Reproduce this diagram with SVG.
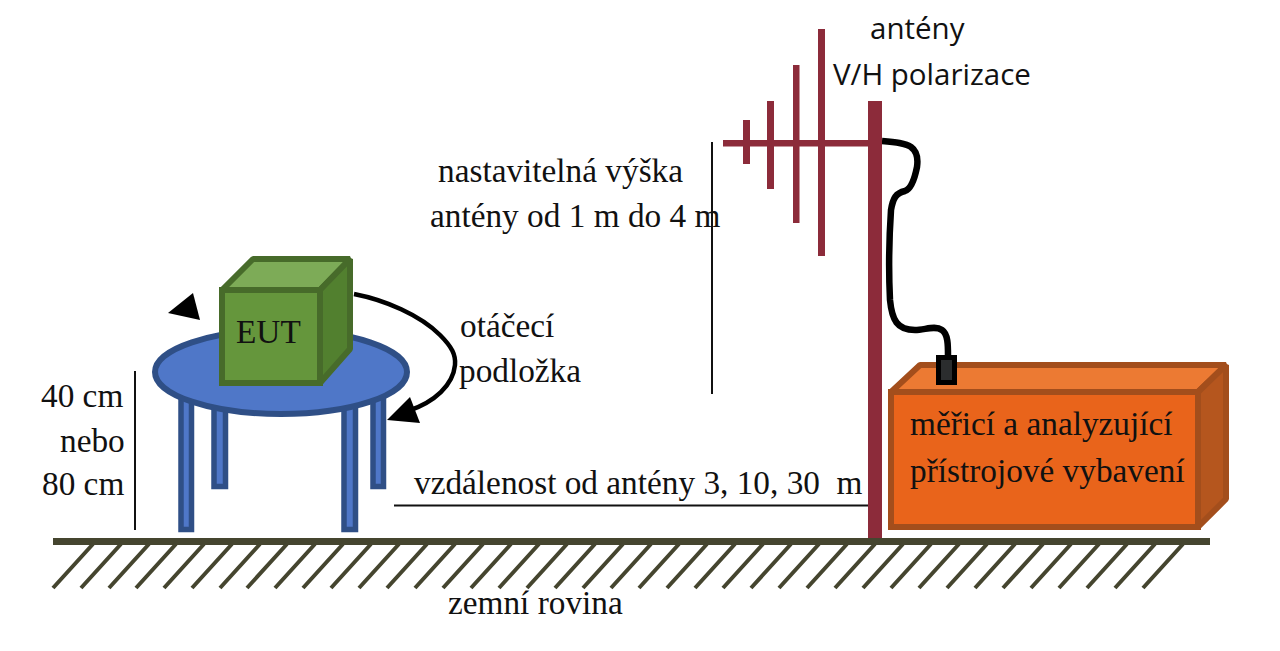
<svg xmlns="http://www.w3.org/2000/svg" width="1280" height="651" viewBox="0 0 1280 651">
<style>
.t{font-family:"Liberation Serif",serif;font-size:33.3px;fill:#111}
.s{font-family:"Open Sans",sans-serif;font-size:29.5px;fill:#111}
.leg{fill:#4f77c8;stroke:#2f4f86;stroke-width:5.500}
.hatch{stroke:#45452f;stroke-width:4;fill:none}
.red{fill:#8c2b3a}
.dim{stroke:#111;stroke-width:2;fill:none}
.j{stroke-linejoin:bevel}
</style>
<rect width="1280" height="651" fill="#fff"/>
<g id="ground">
<rect x="53" y="538" width="1157" height="7" fill="#45452f"/>
<path class="hatch" d="M93 544L53 588M121 544L81 588M149 544L109 588M176 544L136 588M204 544L164 588M232 544L192 588M260 544L220 588M287 544L247 588M315 544L275 588M343 544L303 588M371 544L331 588M399 544L359 588M427 544L387 588M455 544L415 588M483 544L443 588M511 544L471 588M539 544L499 588M567 544L527 588M595 544L555 588M623 544L583 588M651 544L611 588M679 544L639 588M707 544L667 588M735 544L695 588M763 544L723 588M791 544L751 588M819 544L779 588M847 544L807 588M875 544L835 588M903 544L863 588M931 544L891 588M959 544L919 588M987 544L947 588M1015 544L975 588M1043 544L1003 588M1071 544L1031 588M1099 544L1059 588M1127 544L1087 588M1155 544L1115 588M1183 544L1143 588"/>
</g>
<g id="table">
<rect class="leg" x="181" y="395" width="10.500" height="134.500"/>
<rect class="leg" x="214" y="405" width="11.500" height="81.500"/>
<rect class="leg" x="344" y="405" width="11.500" height="124.500"/>
<rect class="leg" x="373" y="395" width="10.500" height="91.500"/>
<ellipse cx="281" cy="372" rx="126" ry="42" fill="#4f77c8" stroke="#2f4f86" stroke-width="6"/>
</g>
<g id="eut">
<path class="j" d="M222 290L253 259H350L320 290Z" fill="#7dab57" stroke="#476b2a" stroke-width="6"/>
<path class="j" d="M320 290L350 259V349L320 383Z" fill="#52802f" stroke="#476b2a" stroke-width="6"/>
<rect x="222" y="290" width="98" height="93" fill="#65963c" stroke="#476b2a" stroke-width="6"/>
<text class="t" x="236" y="343">EUT</text>
</g>
<g id="connectors">
<path d="M354 294C385 300 420 315 440 335C452 347 456 355 455 365C453 385 435 402 408 411" fill="none" stroke="#000" stroke-width="4.500"/>
<path d="M387 420L410 397L420 423Z" fill="#000"/>
<path d="M193 293L168 313L200 320Z" fill="#000"/>
<path class="dim" d="M135 371V530M712 142V394M394 505.500H868"/>
<path d="M882 141C895 142 906 143 911 147C918 152 918 160 917 167C915 177 911 189 905 191C896 193 893 198 891 210C889 240 889 280 890 300C892 320 897 330 915 330C925 330 935 325 942 330C948 334 948 345 948 356" fill="none" stroke="#000" stroke-width="6.500"/>
</g>
<g id="antenna">
<rect class="red" x="723" y="140" width="146" height="6.500"/>
<rect class="red" x="743" y="120" width="7" height="44"/>
<rect class="red" x="767" y="101" width="7" height="88"/>
<rect class="red" x="793" y="65" width="6.500" height="158"/>
<rect class="red" x="818" y="29" width="7" height="227"/>
<rect class="red" x="868" y="101" width="14" height="437"/>
</g>
<g id="box">
<path class="j" d="M891 392L920 365H1226L1198 392Z" fill="#ec7a33" stroke="#a34e1c" stroke-width="6"/>
<path class="j" d="M1198 392L1226 365V499L1198 527Z" fill="#b5561e" stroke="#a34e1c" stroke-width="6"/>
<rect x="891" y="392" width="307" height="135" fill="#e9641b" stroke="#a34e1c" stroke-width="6"/>
<rect x="938.500" y="357.500" width="16" height="25" fill="#2b2d2e" stroke="#000" stroke-width="5"/>
<text class="t" x="910" y="435">měřicí a analyzující</text>
<text class="t" x="910" y="482">přístrojové vybavení</text>
</g>
<g id="labels">
<text class="s" x="870" y="39">antény</text>
<text class="s" x="833" y="85">V/H polarizace</text>
<text class="t" x="438" y="182">nastavitelná výška</text>
<text class="t" x="430" y="227">antény od 1 m do 4 m</text>
<text class="t" x="460" y="337">otáčecí</text>
<text class="t" x="459" y="382">podložka</text>
<text class="t" x="41" y="407">40 cm</text>
<text class="t" x="60" y="452">nebo</text>
<text class="t" x="42" y="495">80 cm</text>
<text class="t" x="414" y="494" xml:space="preserve">vzdálenost od antény 3, 10, 30  m</text>
<text class="t" x="448" y="614">zemní rovina</text>
</g>
</svg>
